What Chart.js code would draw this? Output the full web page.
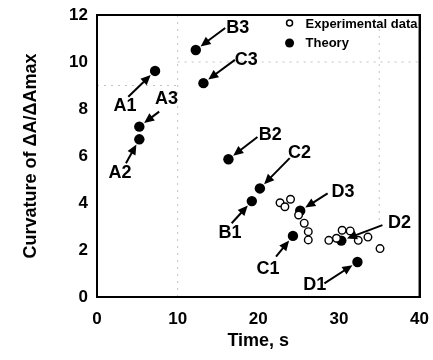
<!DOCTYPE html>
<html lang="en">
<head>
    <meta charset="UTF-8">
    <title>Curvature vs time</title>
    <script src="https://cdn.jsdelivr.net/npm/chart.js"></script>
    <style>
        html, body { margin: 0; padding: 0; background: #fff; }
        #wrap { width: 433px; height: 360px; }
    </style>
</head>
<body>
<div id="wrap"><canvas id="curvChart"></canvas></div>

<script>
    // values
    const expTime = [22.7, 23.3, 24.0, 25.0, 25.7, 26.2, 26.2, 28.75, 29.7, 30.4, 31.4, 32.4, 33.6, 35.1];
    const expCurv = [4.01, 3.84, 4.16, 3.49, 3.14, 2.78, 2.43, 2.41, 2.50, 2.84, 2.81, 2.41, 2.55, 2.06];

    const theoryNames = ['A1', 'A2', 'A3', 'B1', 'B2', 'B3', 'C1', 'C2', 'C3', 'D1', 'D2', 'D3'];
    const theoryTime = [7.2, 5.25, 5.25, 19.2, 16.3, 12.25, 24.3, 20.2, 13.2, 32.3, 30.3, 25.2];
    const theoryCurv = [9.62, 6.71, 7.25, 4.08, 5.86, 10.51, 2.6, 4.62, 9.1, 1.49, 2.4, 3.67];

    const timeTicks = [0, 10, 20, 30, 40];
    const curvTicks = [0, 2, 4, 6, 8, 10, 12];

    // label placement: text centre and arrow tail, in axis units
    const labelPlace = {
        A1: { tx: 3.47, ty: 8.13, sx: 3.88, sy: 8.52 },
        A2: { tx: 2.85, ty: 5.26, sx: 3.59, sy: 5.69 },
        A3: { tx: 8.62, ty: 8.41, sx: 7.71, sy: 7.89 },
        B1: { tx: 16.5, ty: 2.72, sx: 16.7, sy: 3.14 },
        B2: { tx: 21.5, ty: 6.89, sx: 19.9, sy: 6.81 },
        B3: { tx: 17.45, ty: 11.45, sx: 15.9, sy: 11.45 },
        C1: { tx: 21.2, ty: 1.19, sx: 22.2, sy: 1.72 },
        C2: { tx: 25.1, ty: 6.11, sx: 23.9, sy: 5.91 },
        C3: { tx: 18.5, ty: 10.1, sx: 17.1, sy: 10.09 },
        D1: { tx: 27.0, ty: 0.51, sx: 28.2, sy: 0.58 },
        D2: { tx: 37.5, ty: 3.16, sx: 35.4, sy: 3.06 },
        D3: { tx: 30.5, ty: 4.48, sx: 28.6, sy: 4.41 }
    };

    const expPoints = expTime.map((t, i) => ({ x: t, y: expCurv[i] }));
    const theoryPoints = theoryTime.map((t, i) => ({ x: t, y: theoryCurv[i] }));

    const FONT = '"Liberation Sans", Arial, sans-serif';

    // faint scan grid behind the points
    const scanGrid = {
        id: 'scanGrid',
        beforeDatasetsDraw(chart) {
            const { ctx, chartArea: a, scales: { x, y } } = chart;
            ctx.save();
            ctx.strokeStyle = 'rgba(120,120,120,0.45)';
            ctx.lineWidth = 1;
            ctx.setLineDash([2, 5]);
            ctx.beginPath();
            ctx.moveTo(x.getPixelForValue(10), a.top);
            ctx.lineTo(x.getPixelForValue(10), a.bottom);
            ctx.moveTo(x.getPixelForValue(35), a.top);
            ctx.lineTo(x.getPixelForValue(35), y.getPixelForValue(3));
            ctx.moveTo(a.left, y.getPixelForValue(9));
            ctx.lineTo(x.getPixelForValue(10), y.getPixelForValue(9));
            ctx.moveTo(x.getPixelForValue(10), y.getPixelForValue(10));
            ctx.lineTo(a.right, y.getPixelForValue(10));
            ctx.stroke();
            ctx.restore();
        }
    };

    // box round the plot, drawn after everything else
    const frame = {
        id: 'frame',
        afterDatasetsDraw(chart) {
            const { ctx, chartArea: a } = chart;
            ctx.save();
            ctx.setLineDash([]);
            ctx.strokeStyle = '#000';
            ctx.lineWidth = 2;
            ctx.strokeRect(a.left, a.top, a.width, a.height);
            ctx.restore();
        }
    };

    // arrows, point names and the legend box
    const labels = {
        id: 'labels',
        afterDraw(chart) {
            const { ctx, chartArea: a, scales: { x, y } } = chart;
            ctx.save();
            ctx.fillStyle = '#000';
            ctx.strokeStyle = '#000';
            ctx.font = 'bold 18px ' + FONT;
            ctx.textAlign = 'center';
            ctx.textBaseline = 'middle';
            theoryNames.forEach((name, i) => {
                const p = labelPlace[name];
                const px = x.getPixelForValue(theoryTime[i]);
                const py = y.getPixelForValue(theoryCurv[i]);
                const sx = x.getPixelForValue(p.sx);
                const sy = y.getPixelForValue(p.sy);
                const ang = Math.atan2(py - sy, px - sx);
                const c = Math.cos(ang), s = Math.sin(ang);
                const ex = px - c * 6;
                const ey = py - s * 6;
                const head = 10;
                ctx.lineWidth = 2;
                ctx.beginPath();
                ctx.moveTo(sx, sy);
                ctx.lineTo(ex - c * head * 0.6, ey - s * head * 0.6);
                ctx.stroke();
                ctx.beginPath();
                ctx.moveTo(ex, ey);
                ctx.lineTo(ex - head * c + 4.5 * s, ey - head * s - 4.5 * c);
                ctx.lineTo(ex - head * c - 4.5 * s, ey - head * s + 4.5 * c);
                ctx.closePath();
                ctx.fill();
                ctx.fillText(name, x.getPixelForValue(p.tx), y.getPixelForValue(p.ty));
            });

            const lx = a.right - 130;
            ctx.font = 'bold 13px ' + FONT;
            ctx.textAlign = 'left';
            ctx.lineWidth = 1.5;
            ctx.beginPath();
            ctx.arc(lx, a.top + 8, 3, 0, Math.PI * 2);
            ctx.fillStyle = '#fff';
            ctx.fill();
            ctx.stroke();
            ctx.fillStyle = '#000';
            ctx.beginPath();
            ctx.arc(lx, a.top + 28, 4.5, 0, Math.PI * 2);
            ctx.fill();
            ctx.fillText('Experimental data', lx + 16, a.top + 9);
            ctx.fillText('Theory', lx + 16, a.top + 28);
            ctx.restore();
        }
    };

    new Chart(document.getElementById('curvChart'), {
        type: 'scatter',
        data: {
            datasets: [
                {
                    label: 'Experimental data',
                    data: expPoints,
                    pointStyle: 'circle',
                    pointRadius: 3.8,
                    pointBackgroundColor: '#fff',
                    pointBorderColor: '#000',
                    pointBorderWidth: 1.4
                },
                {
                    label: 'Theory',
                    data: theoryPoints,
                    pointStyle: 'circle',
                    pointRadius: 5.2,
                    pointBackgroundColor: '#000',
                    pointBorderColor: '#000',
                    pointBorderWidth: 0
                }
            ]
        },
        options: {
            responsive: true,
            maintainAspectRatio: false,
            animation: false,
            layout: { padding: { top: 15, right: 13, left: 0, bottom: 0 } },
            plugins: {
                legend: { display: false },
                tooltip: { enabled: false }
            },
            scales: {
                x: {
                    type: 'linear',
                    min: 0,
                    max: 40,
                    afterBuildTicks: s => { s.ticks = timeTicks.map(v => ({ value: v })); },
                    afterFit: s => { s.height = 63; },
                    grid: { display: false },
                    border: { display: true, color: '#000', width: 2 },
                    ticks: {
                        color: '#000',
                        padding: 4,
                        font: { family: FONT, size: 17, weight: 'bold' }
                    },
                    title: {
                        display: true,
                        text: 'Time, s',
                        color: '#000',
                        padding: { top: 0, bottom: 8 },
                        font: { family: FONT, size: 18, weight: 'bold' }
                    }
                },
                xTop: {
                    type: 'linear',
                    position: 'top',
                    min: 0,
                    max: 40,
                    afterFit: s => { s.height = 0; },
                    grid: { display: false },
                    border: { display: true, color: '#000', width: 2 },
                    ticks: { display: false }
                },
                y: {
                    type: 'linear',
                    min: 0,
                    max: 12,
                    afterBuildTicks: s => { s.ticks = curvTicks.map(v => ({ value: v })); },
                    afterFit: s => { s.width = 97; },
                    grid: { display: false },
                    border: { display: true, color: '#000', width: 2 },
                    ticks: {
                        color: '#000',
                        padding: 1,
                        font: { family: FONT, size: 17, weight: 'bold' }
                    },
                    title: {
                        display: true,
                        text: 'Curvature of ΔA/ΔAmax',
                        color: '#000',
                        padding: { top: 20, bottom: 0 },
                        font: { family: FONT, size: 18, weight: 'bold' }
                    }
                },
                yRight: {
                    type: 'linear',
                    position: 'right',
                    min: 0,
                    max: 12,
                    afterFit: s => { s.width = 0; },
                    grid: { display: false },
                    border: { display: true, color: '#000', width: 2 },
                    ticks: { display: false }
                }
            }
        },
        plugins: [scanGrid, frame, labels]
    });
</script>
</body>
</html>
